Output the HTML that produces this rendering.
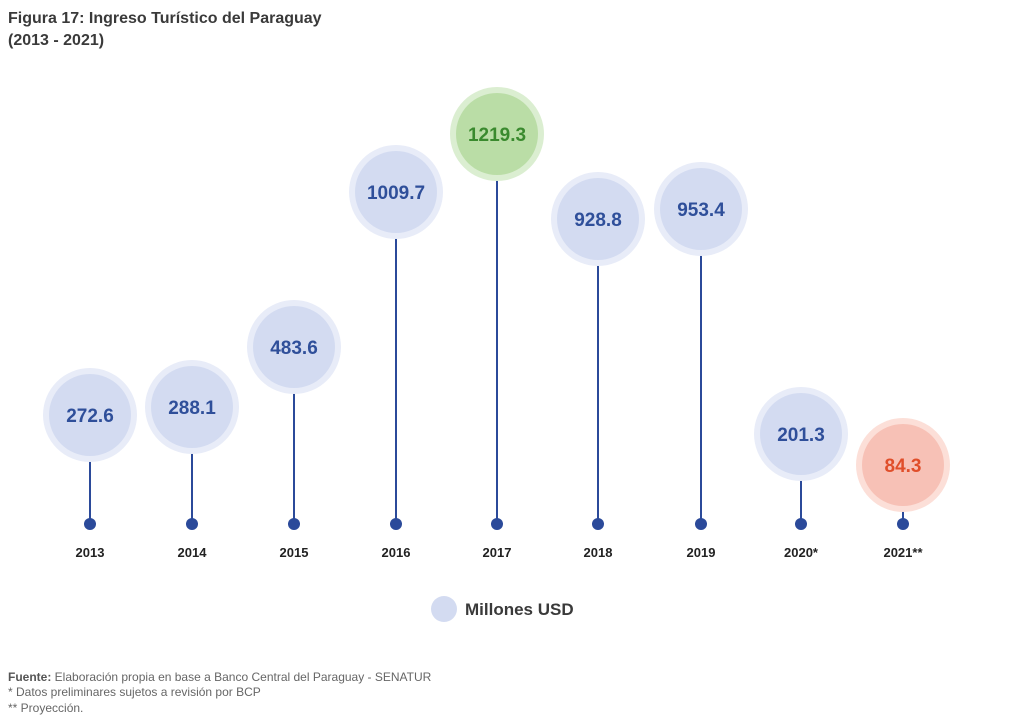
<!DOCTYPE html>
<html><head><meta charset="utf-8"><style>
body{margin:0;background:#fff;width:1024px;height:719px;overflow:hidden;font-family:"Liberation Sans",sans-serif}
</style></head><body>
<svg width="1024" height="719" xmlns="http://www.w3.org/2000/svg" font-family="Liberation Sans, sans-serif">
<text x="8" y="23" font-size="16" font-weight="bold" fill="#3a3a3a">Figura 17: Ingreso Turístico del Paraguay</text>
<text x="8" y="45" font-size="16" font-weight="bold" fill="#3a3a3a">(2013 - 2021)</text>
<g stroke="#2b4a9a" stroke-width="2">
<line x1="90" y1="417" x2="90" y2="524"/><line x1="192" y1="407" x2="192" y2="524"/>
<line x1="294" y1="347" x2="294" y2="524"/><line x1="396" y1="192" x2="396" y2="524"/>
<line x1="497" y1="134" x2="497" y2="524"/><line x1="598" y1="219" x2="598" y2="524"/>
<line x1="701" y1="209" x2="701" y2="524"/><line x1="801" y1="434" x2="801" y2="524"/>
<line x1="903" y1="465" x2="903" y2="524"/>
</g>
<g fill="#2b4a9a">
<circle cx="90" cy="524" r="6"/><circle cx="192" cy="524" r="6"/><circle cx="294" cy="524" r="6"/>
<circle cx="396" cy="524" r="6"/><circle cx="497" cy="524" r="6"/><circle cx="598" cy="524" r="6"/>
<circle cx="701" cy="524" r="6"/><circle cx="801" cy="524" r="6"/><circle cx="903" cy="524" r="6"/>
</g>
<g fill="#e8ecf8">
<circle cx="90" cy="415" r="47"/><circle cx="192" cy="407" r="47"/><circle cx="294" cy="347" r="47"/>
<circle cx="396" cy="192" r="47"/><circle cx="598" cy="219" r="47"/><circle cx="701" cy="209" r="47"/>
<circle cx="801" cy="434" r="47"/>
</g>
<g fill="#d3dbf1">
<circle cx="90" cy="415" r="41"/><circle cx="192" cy="407" r="41"/><circle cx="294" cy="347" r="41"/>
<circle cx="396" cy="192" r="41"/><circle cx="598" cy="219" r="41"/><circle cx="701" cy="209" r="41"/>
<circle cx="801" cy="434" r="41"/>
</g>
<circle cx="497" cy="134" r="47" fill="#dbeed1"/><circle cx="497" cy="134" r="41" fill="#badda6"/>
<circle cx="903" cy="465" r="47" fill="#fcdfd8"/><circle cx="903" cy="465" r="41" fill="#f7c1b6"/>
<g font-size="19" font-weight="bold" fill="#2f4f9a" text-anchor="middle">
<text x="90" y="422">272.6</text><text x="192" y="414">288.1</text><text x="294" y="354">483.6</text>
<text x="396" y="199">1009.7</text><text x="598" y="226">928.8</text><text x="701" y="216">953.4</text>
<text x="801" y="441">201.3</text>
<text x="497" y="141" fill="#3a8a2e">1219.3</text><text x="903" y="472" fill="#e04e2a">84.3</text>
</g>
<g font-size="13" font-weight="bold" fill="#222" text-anchor="middle">
<text x="90" y="557">2013</text><text x="192" y="557">2014</text><text x="294" y="557">2015</text>
<text x="396" y="557">2016</text><text x="497" y="557">2017</text><text x="598" y="557">2018</text>
<text x="701" y="557">2019</text><text x="801" y="557">2020*</text><text x="903" y="557">2021**</text>
</g>
<circle cx="444" cy="609" r="13" fill="#d3dbf1"/>
<text x="465" y="615" font-size="17" font-weight="bold" fill="#3a3a3a">Millones USD</text>
<g font-size="12" fill="#666">
<text x="8" y="681"><tspan font-weight="bold" fill="#555">Fuente:</tspan>  Elaboración propia en base a Banco Central del Paraguay - SENATUR</text>
<text x="8" y="696">* Datos preliminares sujetos a revisión por BCP</text>
<text x="8" y="712">** Proyección.</text>
</g>
</svg>
</body></html>
